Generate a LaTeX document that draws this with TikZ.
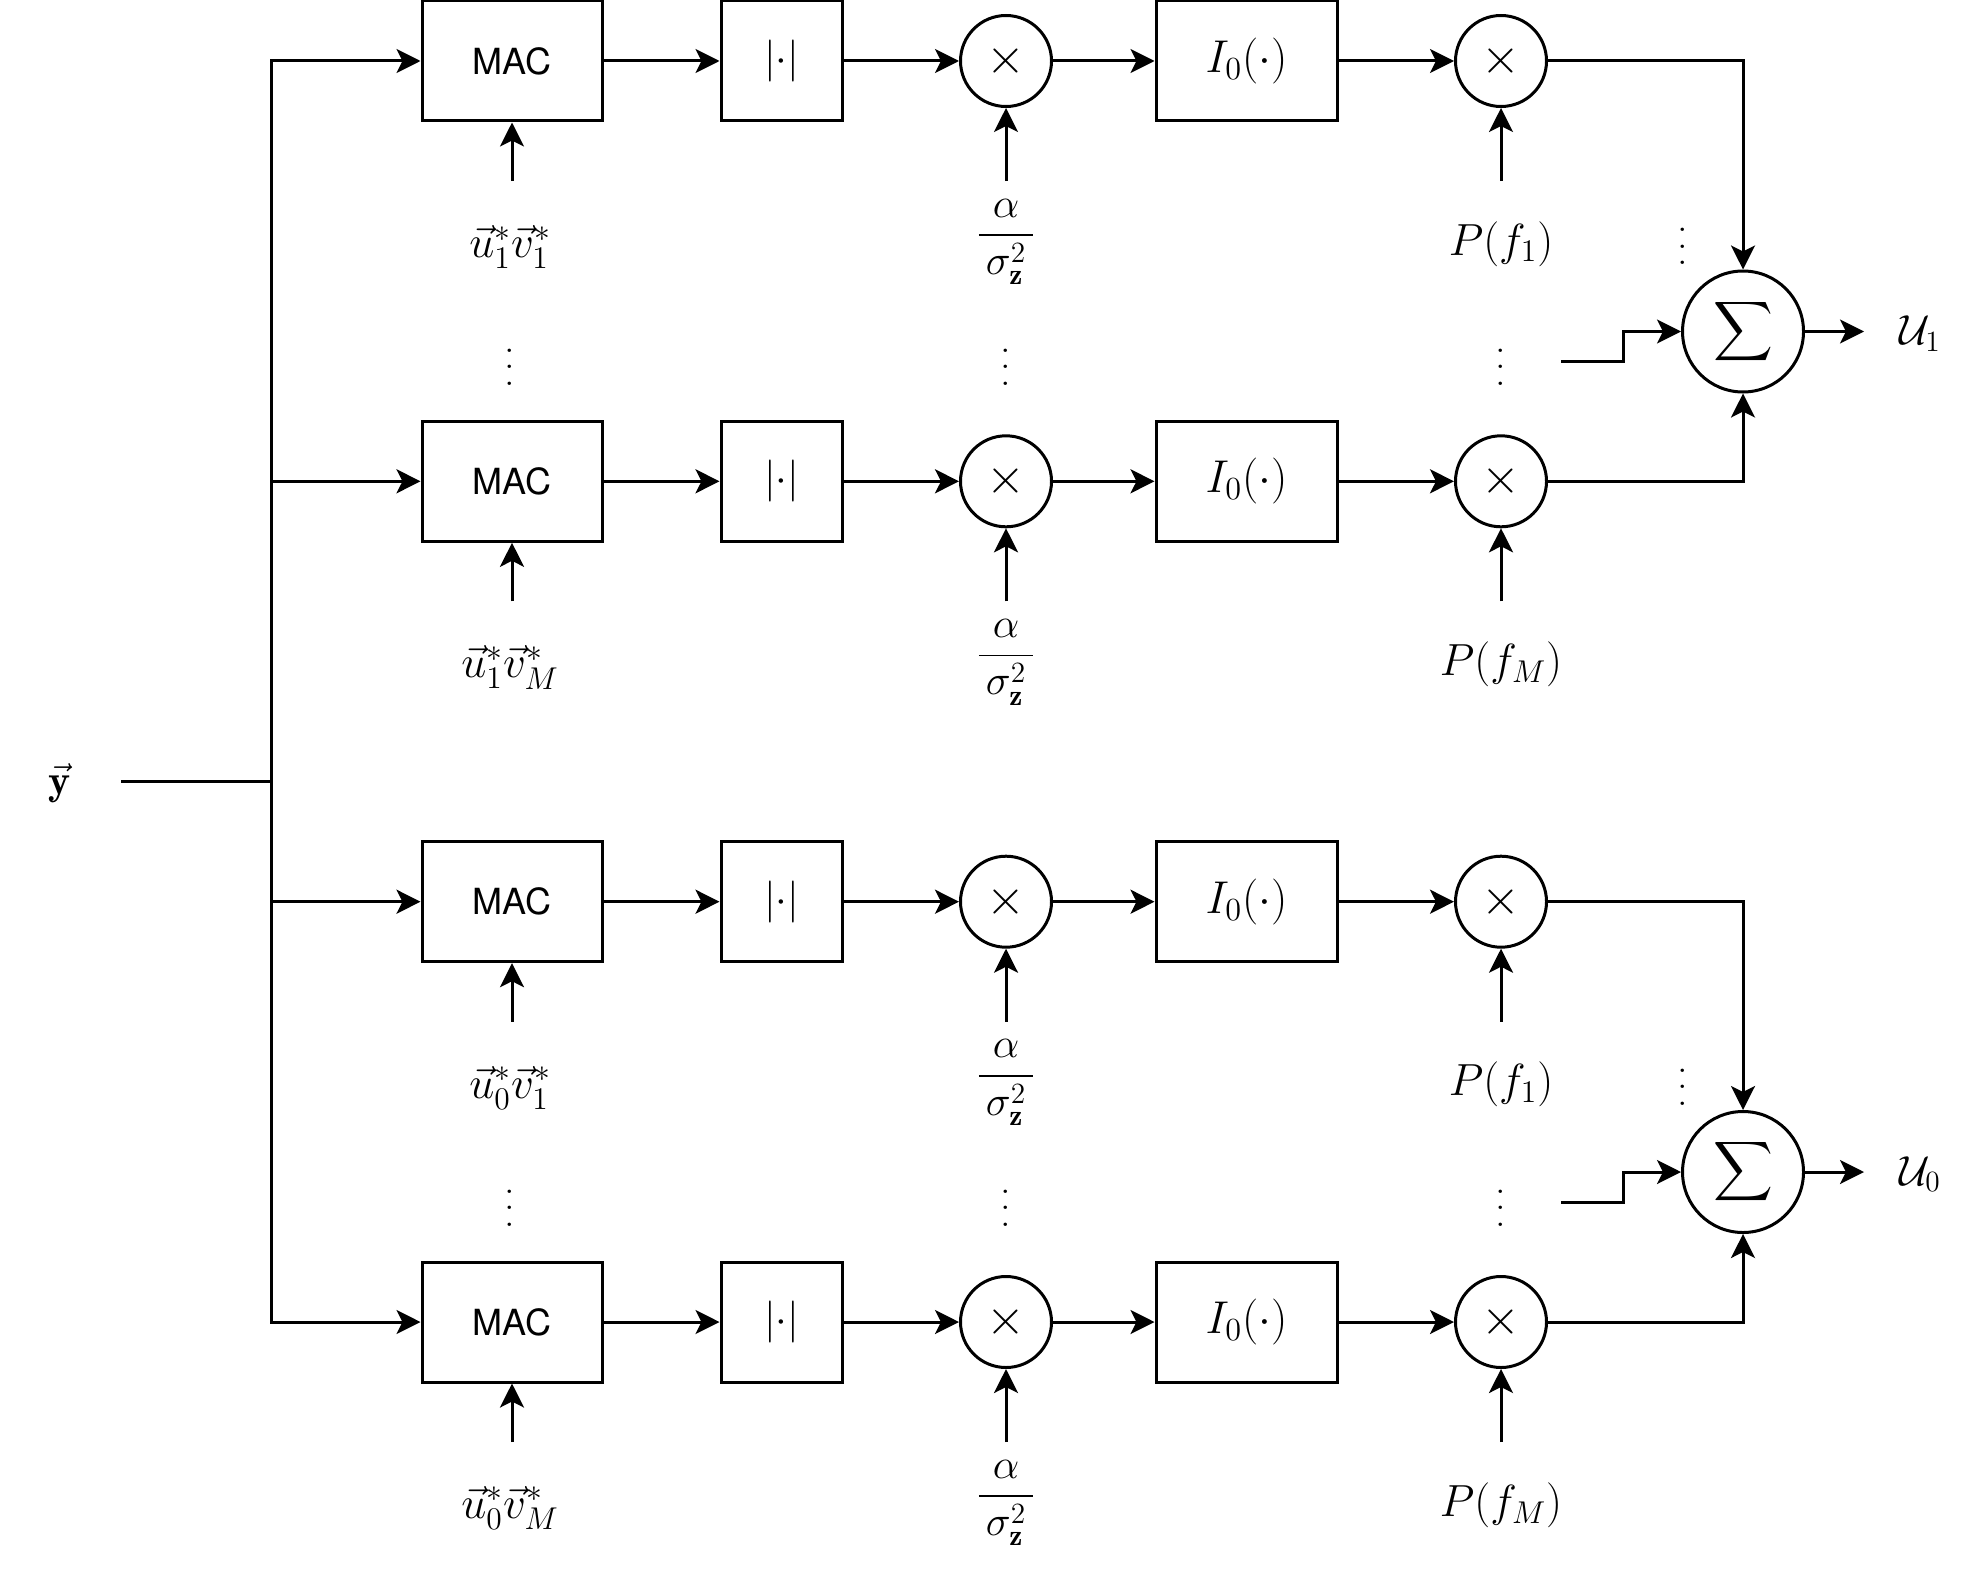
\RequirePackage{fix-cm}
\documentclass[tikz,border=0pt]{standalone}
\usepackage{amsmath}
\usepackage{fontspec}
\setsansfont{TeX Gyre Heros}
\usetikzlibrary{arrows.meta}
\newcommand\bigvdots{\vbox{\baselineskip8.3pt\lineskiplimit0pt\hbox{.}\hbox{.}\hbox{.}}}
\begin{document}
\begin{tikzpicture}[>={Stealth[length=12pt,width=12pt,inset=3pt]}, line width=1.5pt, x=.5pt, y=-.5pt,
	font=\fontsize{21}{25}\selectfont,
	lbl/.style={font=\fontsize{22.5}{26}\selectfont},
	blk/.style={draw, minimum height=60pt, inner sep=0pt},
	mul/.style={draw, circle, minimum size=45.5pt, inner sep=0pt, font=\fontsize{25}{28}\selectfont},
	sumnode/.style={draw, circle, minimum size=60.5pt, inner sep=0pt, font=\fontsize{22}{26}\selectfont}]
	\useasboundingbox (0,0) rectangle (1980,1584);
	% input and bus
	\node (yv) at (60,783) {$\vec{\mathbf{y}}$};
	\coordinate (yin) at (121,781);
	\coordinate (busin) at (271,781);
	\draw (yin) -- (busin);
	% one branch per row
	\foreach \r/\yy/\lu/\lp in {1/61/{\vec{u}_1^*\vec{v}_1^*}/{P(f_1)}, 2/481.3/{\vec{u}_1^*\vec{v}_M^*}/{P(f_M)},
		3/901.7/{\vec{u}_0^*\vec{v}_1^*}/{P(f_1)}, 4/1322/{\vec{u}_0^*\vec{v}_M^*}/{P(f_M)}}{
		\node[blk, minimum width=90pt, font=\sffamily\fontsize{18}{20}\selectfont] (mac\r) at (512,\yy) {MAC};
		\node[blk, minimum width=60.5pt, font=\fontsize{21}{24}\selectfont] (abs\r) at (781.5,\yy) {$|{\cdot}|$};
		\node[mul] (mulA\r) at (1006,\yy) {$\times$};
		\node[blk, minimum width=90.5pt, font=\fontsize{23}{26}\selectfont] (bes\r) at (1246.5,\yy) {$I_0(\cdot)$};
		\node[mul] (mulB\r) at (1501,\yy) {$\times$};
		\node[lbl] (lu\r) at (510,{\yy+186}) {$\lu$};
		\node (la\r) at (1006,{\yy+181}) {$\dfrac{\alpha}{\,\sigma^2_{\mathbf{z}}\,}$};
		\node[lbl] (lp\r) at (1501,{\yy+183}) {$\lp$};
		\coordinate (cu\r) at (512,{\yy+120});
		\coordinate (ca\r) at (1006,{\yy+120});
		\coordinate (cp\r) at (1501,{\yy+120});
		\draw[->] (busin) |- (mac\r);
		\draw[->] (mac\r) -- (abs\r);
		\draw[->] (abs\r) -- (mulA\r);
		\draw[->] (mulA\r) -- (bes\r);
		\draw[->] (bes\r) -- (mulB\r);
		\draw[->] (cu\r) -- (mac\r);
		\draw[->] (ca\r) -- (mulA\r);
		\draw[->] (cp\r) -- (mulB\r);
	}
	% dots between rows
	\foreach \g/\yy in {1/367, 2/1208}
		\foreach \xx/\n in {510/a, 1006/b, 1501/c}
			\node (dots\n\g) at (\xx,\yy) {\bigvdots};
	% summing nodes
	\foreach \s/\yy in {1/331.5, 0/1172}{
		\node[sumnode] (sum\s) at (1743,\yy) {$\displaystyle\sum$};
		\node (sd\s) at (1683,{\yy-85}) {\bigvdots};
		\coordinate (st\s) at (1561,{\yy+30});
		\coordinate (kn\s) at (1623,{\yy+30});
		\coordinate (out\s) at (1864,\yy);
		\node (U\s) at (1920,{\yy+2}) {$\mathcal{U}_\s$};
		\draw[->] (st\s) -- (kn\s) |- (sum\s);
		\draw[->] (sum\s) -- (out\s);
	}
	\draw[->] (mulB1) -| (sum1);
	\draw[->] (mulB2) -| (sum1);
	\draw[->] (mulB3) -| (sum0);
	\draw[->] (mulB4) -| (sum0);
\end{tikzpicture}
\end{document}
